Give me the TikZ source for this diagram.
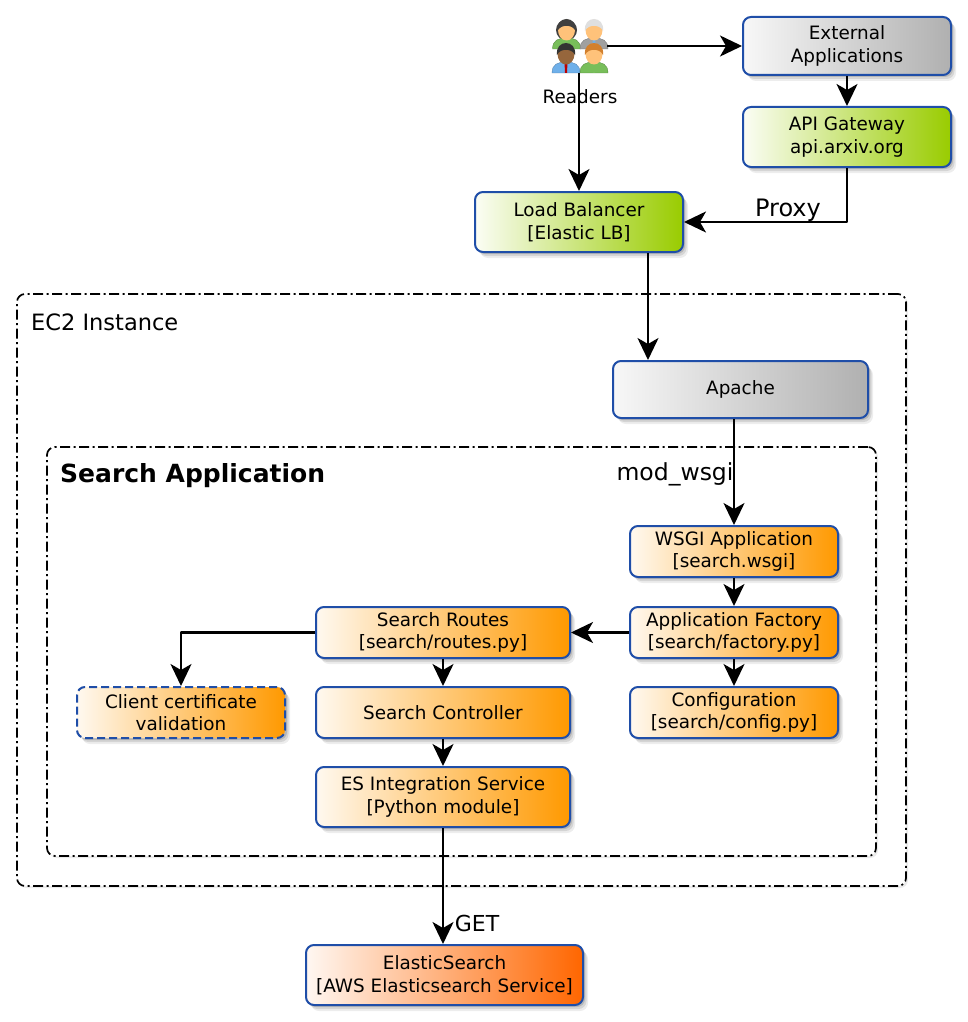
\documentclass[tikz,border=0pt]{standalone}
\usepackage{fontspec}
\setmainfont{DejaVu Sans}
\usetikzlibrary{arrows.meta,shadows}

\definecolor{lineaBox}{HTML}{1F4EA8}
\definecolor{fineGrigio}{HTML}{B0B0B0}
\definecolor{fineVerde}{HTML}{99CC00}
\definecolor{fineArancio}{HTML}{FF9900}
\definecolor{fineRosso}{HTML}{FF6600}

\tikzset{
  softshadow/.style={
    drop shadow={shadow xshift=5pt,shadow yshift=-6pt,opacity=.07,fill=black},
    drop shadow={shadow xshift=3.5pt,shadow yshift=-4pt,opacity=.1,fill=black},
    drop shadow={shadow xshift=2pt,shadow yshift=-2pt,opacity=.14,fill=black}},
  basebox/.style={draw=lineaBox,line width=2pt,rounded corners=8pt,softshadow,
    align=center,font=\fontsize{18.4}{22.5}\selectfont,text=black,inner sep=0pt,
    minimum width=208pt,minimum height=#1},
  basebox/.default=51pt,
  greybox/.style={basebox=#1,left color=black!3,right color=fineGrigio},
  greenbox/.style={basebox=#1,left color=fineVerde!4,right color=fineVerde},
  orangebox/.style={basebox=#1,left color=fineArancio!6,right color=fineArancio},
  redbox/.style={basebox=#1,left color=fineRosso!5,right color=fineRosso},
  groupbox/.style={draw=black,line width=1.7pt,rounded corners=8pt,fill=white,
    dash pattern=on 10pt off 3.5pt on 2pt off 3.5pt,inner sep=0pt,
    drop shadow={shadow xshift=2pt,shadow yshift=-2pt,opacity=.08,fill=black,draw=none}},
  conn/.style={draw=black,line width=2.1pt,
    -{Stealth[length=22pt,width=21pt,inset=6pt]}},
}

% Una figura del gruppo: spalle, collo, testa, capelli.
\newcommand{\lettorefig}[6]{%
\begin{scope}[shift={(#1,#2)}]
  \fill[#3,draw=#3!70!black,line width=.3pt] (-14,19) .. controls (-14,10) and (-8,8) .. (0,8)
    .. controls (8,8) and (14,10) .. (14,19) -- cycle;
  \fill[#6] (-1.5,8) -- (1.5,8) -- (1,19) -- (-1,19) -- cycle;
  \fill[#4] (0,0) ellipse[x radius=8.5pt,y radius=10.5pt];
  \fill[#5] (-9,1) .. controls (-11,-15) and (11,-15) .. (9,1)
    .. controls (6,-6) and (-6,-6) .. cycle;
\end{scope}}

\begin{document}
\begin{tikzpicture}[x=1pt,y=-1pt,line join=round]
  \useasboundingbox (0,0) rectangle (968,1022);
  \definecolor{pelleChiara}{HTML}{FFC27A}
  \definecolor{pelleScura}{HTML}{96663C}
  \definecolor{maglVerde}{HTML}{78BE5A}
  \definecolor{maglBlu}{HTML}{6FB0EA}
  \definecolor{maglGrigia}{HTML}{A0A0A0}

  % Contenitori
  \node[groupbox,minimum width=889pt,minimum height=592pt] (ec2) at (461.5,590) {};
  \node[groupbox,minimum width=829pt,minimum height=409pt] (searchapp) at (461.5,651.5) {};
  \node[anchor=west,font=\fontsize{22.5}{26}\selectfont,inner sep=0pt] (ec2label) at (31,322) {EC2 Instance};
  \node[anchor=west,font=\fontsize{25}{30}\selectfont\bfseries,inner sep=0pt] (searchlabel) at (60,476) {Search Application};

  % Gruppo dei lettori
  \fill[black!75] (566.5,30) ellipse[x radius=10.5pt,y radius=10.5pt];
  \lettorefig{566.5}{30}{maglVerde}{pelleChiara}{black!75}{maglVerde}
  \lettorefig{594}{30}{maglGrigia}{pelleChiara}{gray!25}{maglBlu}
  \lettorefig{566}{54}{maglBlu}{pelleScura}{black!80}{red!75!black}
  \lettorefig{594}{54}{maglVerde}{pelleChiara}{brown!70!orange}{maglVerde}
  \node[minimum width=56pt,minimum height=54pt,inner sep=0pt] (readers) at (579,46) {};
  \node[font=\fontsize{18.4}{22}\selectfont,inner sep=0pt] (readerslabel) at (580,97) {Readers};

  \node[greybox=58pt] (external) at (847,46) {External\\Applications};
  \node[greenbox=60pt] (gateway) at (847,137) {API Gateway\\api.arxiv.org};
  \node[greenbox=60pt] (balancer) at (579,222) {Load Balancer\\{[Elastic LB]}};
  \node[greybox=57pt,minimum width=255pt] (apache) at (740.5,389.5) {Apache};

  \node[orangebox=51pt] (wsgi) at (734,551.5) {WSGI Application\\{[search.wsgi]}};
  \node[orangebox=51pt] (factory) at (734,632.5) {Application Factory\\{[search/factory.py]}};
  \node[orangebox=51pt] (config) at (734,712.5) {Configuration\\{[search/config.py]}};
  \node[orangebox=51pt,minimum width=254pt] (routes) at (443,632.5) {Search Routes\\{[search/routes.py]}};
  \node[orangebox=51pt,minimum width=254pt] (controller) at (443,712.5) {Search Controller};
  \node[orangebox=60pt,minimum width=254pt] (integration) at (443,797) {ES Integration Service\\{[Python module]}};
  \node[orangebox=51pt,dash pattern=on 8pt off 4pt] (certificate) at (181,712.5) {Client certificate\\validation};
  \node[redbox=60pt,minimum width=277pt] (elastic) at (444.5,975) {ElasticSearch\\{[AWS Elasticsearch Service]}};

  % Collegamenti
  \coordinate (balancerout) at ([xshift=69pt]balancer.south);
  \draw[conn] (readers.south) -- (balancer.north);
  \draw[conn] (readers.east) -- (external.west);
  \draw[conn] (external) -- (gateway);
  \draw[conn] (gateway.south) |- (balancer.east);
  \draw[conn] (balancerout) -- (balancerout |- apache.north);
  \draw[conn] (wsgi.north |- apache.south) -- (wsgi.north);
  \draw[conn] (wsgi) -- (factory);
  \draw[conn] (factory) -- (config);
  \draw[conn] (factory) -- (routes);
  \draw[conn] (routes) -- (controller);
  \draw[conn] (controller) -- (integration);
  \draw[conn] (routes.west) -| (certificate.north);
  \draw[conn] (integration.south) -- (elastic.north -| integration.south);

  % Etichette dei collegamenti
  \node[font=\fontsize{24}{28}\selectfont,inner sep=0pt] (proxylabel) at (788,210) {Proxy};
  \node[font=\fontsize{22}{26}\selectfont,inner sep=0pt] (getlabel) at (477,923) {GET};
  \node[font=\fontsize{23.5}{28}\selectfont,inner sep=0pt] (modlabel) at (675,474) {mod\_wsgi};
\end{tikzpicture}
\end{document}
